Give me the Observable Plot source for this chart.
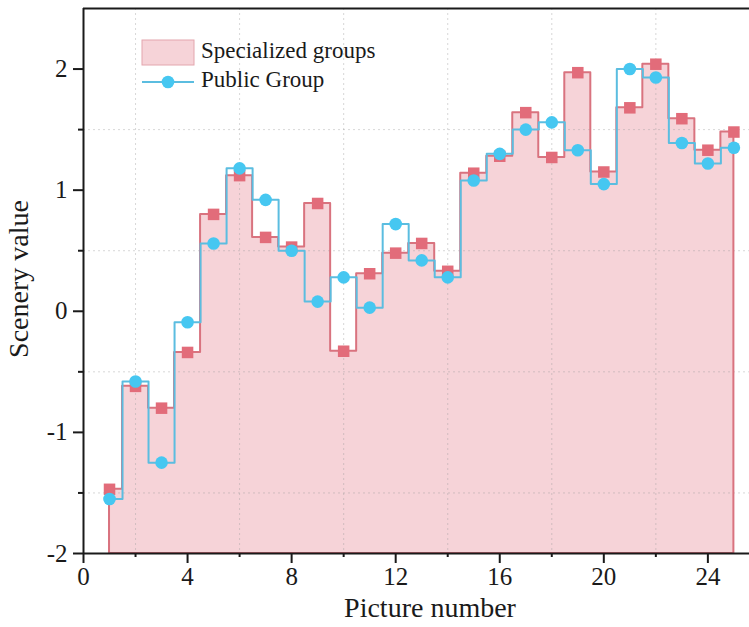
<!DOCTYPE html>
<html>
<head>
<meta charset="utf-8">
<script src="https://cdn.jsdelivr.net/npm/d3@7"></script>
<script src="https://cdn.jsdelivr.net/npm/@observablehq/plot@0.6"></script>
<style>
  html, body { margin: 0; padding: 0; background: #fff; }
  #wrap { position: relative; width: 749px; height: 627px; overflow: hidden; }
  #legend { position: absolute; left: 0; top: 0; pointer-events: none; }
</style>
</head>
<body>
<div id="wrap"></div>
<script>
// Data
const pictures = [1,2,3,4,5,6,7,8,9,10,11,12,13,14,15,16,17,18,19,20,21,22,23,24,25];
const specialized = [-1.47,-0.62,-0.80,-0.34,0.80,1.12,0.61,0.53,0.89,-0.33,0.31,0.48,0.56,0.33,1.14,1.28,1.64,1.27,1.97,1.15,1.68,2.04,1.59,1.33,1.48];
const publicGroup = [-1.55,-0.58,-1.25,-0.09,0.56,1.18,0.92,0.50,0.08,0.28,0.03,0.72,0.42,0.28,1.08,1.30,1.50,1.56,1.33,1.05,2.00,1.93,1.39,1.22,1.35];
const xMajorTicks = [0,4,8,12,16,20,24];
const xMinorTicks = [2,6,10,14,18,22];
const yMajorTicks = [-2,-1,0,1,2];
const yMinorTicks = [-1.5,-0.5,0.5,1.5];
const seriesNames = ["Specialized groups", "Public Group"];

const specData = pictures.map((p, i) => ({x: p, y: specialized[i]}));
const pubData = pictures.map((p, i) => ({x: p, y: publicGroup[i]}));

const font = "'Liberation Serif', 'Times New Roman', serif";
const ink = "#1a1a1a";
const pinkFill = "#f6d3d8";
const redLine = "#d9737f";
const redMark = "#e26c7a";
const cyanLine = "#5bbde0";
const cyanMark = "#46c7f1";

const chart = Plot.plot({
  width: 749,
  height: 627,
  marginLeft: 83,
  marginRight: 0,
  marginTop: 8,
  marginBottom: 74,
  x: {domain: [0, 25.6]},
  y: {domain: [-2, 2.5]},
  style: {fontFamily: font, background: "#fff", color: ink},
  marks: [
    Plot.areaY(specData, {x: "x", y1: -2, y2: "y", curve: "step", fill: pinkFill}),
    Plot.gridX(xMinorTicks, {stroke: "#9a9a9a", strokeOpacity: 0.4, strokeDasharray: "2,3", strokeWidth: 1}),
    Plot.gridY(yMinorTicks, {stroke: "#9a9a9a", strokeOpacity: 0.4, strokeDasharray: "2,3", strokeWidth: 1}),
    Plot.areaY(specData, {x: "x", y1: -2, y2: "y", curve: "step", fill: "none", stroke: redLine, strokeWidth: 2}),
    Plot.line(pubData, {x: "x", y: "y", curve: "step", stroke: cyanLine, strokeWidth: 2}),
    Plot.dot(specData, {x: "x", y: "y", symbol: "square", r: 6.5, fill: redMark, stroke: "none"}),
    Plot.dot(pubData, {x: "x", y: "y", symbol: "circle", r: 6.3, fill: cyanMark, stroke: "none"}),
    Plot.ruleY([2.5], {stroke: ink, strokeWidth: 2}),
    Plot.ruleY([-2], {stroke: ink, strokeWidth: 2}),
    Plot.ruleX([0], {stroke: ink, strokeWidth: 2}),
    Plot.axisX(xMajorTicks, {tickSize: 10, tickPadding: 4, fontSize: 25, strokeWidth: 2, stroke: ink, fill: ink, label: null, tickFormat: d => String(d)}),
    Plot.axisX(xMinorTicks, {tickSize: 4, strokeWidth: 2, stroke: ink, tickFormat: () => "", label: null}),
    Plot.axisY(yMajorTicks, {tickSize: 10, tickPadding: 6, fontSize: 25, strokeWidth: 2, stroke: ink, fill: ink, label: null, tickFormat: d => String(d)}),
    Plot.axisY(yMinorTicks, {tickSize: 5, strokeWidth: 2, stroke: ink, tickFormat: () => "", label: null})
  ]
});

document.getElementById("wrap").appendChild(chart);

// Axis titles
const svg = d3.select(chart);
svg.append("text")
  .attr("x", 430).attr("y", 611)
  .attr("text-anchor", "middle").attr("dominant-baseline", "middle")
  .attr("font-family", font).attr("font-size", 28).attr("fill", ink)
  .text("Picture number");
svg.append("text")
  .attr("transform", "translate(22,279) rotate(-90)")
  .attr("text-anchor", "middle").attr("dominant-baseline", "middle")
  .attr("font-family", font).attr("font-size", 28).attr("fill", ink)
  .text("Scenery value");

// Legend
const lg = d3.select("#wrap").append("svg")
  .attr("id", "legend").attr("width", 400).attr("height", 110);
lg.append("rect").attr("x", 142).attr("y", 40).attr("width", 52).attr("height", 25)
  .attr("fill", pinkFill).attr("stroke", "#e3a6ae").attr("stroke-width", 1);
lg.append("text").attr("x", 201).attr("y", 53).attr("dominant-baseline", "middle")
  .attr("font-family", font).attr("font-size", 23).attr("fill", ink).text(seriesNames[0]);
lg.append("line").attr("x1", 142).attr("x2", 194).attr("y1", 82).attr("y2", 82)
  .attr("stroke", cyanLine).attr("stroke-width", 2);
lg.append("circle").attr("cx", 168).attr("cy", 82).attr("r", 6.3).attr("fill", cyanMark);
lg.append("text").attr("x", 201).attr("y", 82).attr("dominant-baseline", "middle")
  .attr("font-family", font).attr("font-size", 23).attr("fill", ink).text(seriesNames[1]);
</script>
</body>
</html>
